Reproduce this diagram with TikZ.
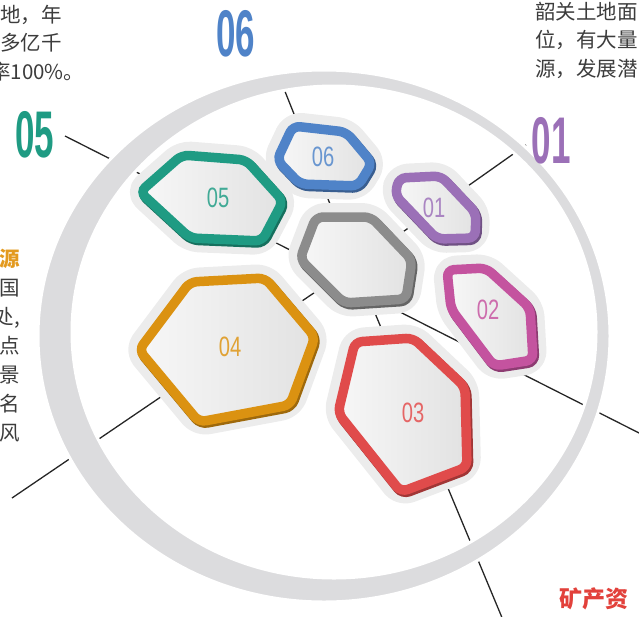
\documentclass[tikz,border=0pt]{standalone}
\usepackage{fontspec}
\usepackage{tikz}
\usetikzlibrary{calc}
\newfontfamily\cjk{Noto Sans CJK SC}
\newfontfamily\bignum[FakeStretch=0.53]{Liberation Sans}
\newfontfamily\cellnum[FakeStretch=0.72]{Liberation Sans}

\definecolor{c01}{HTML}{9B70B7}
\definecolor{c02}{HTML}{C4539F}
\definecolor{c03}{HTML}{E04B4B}
\definecolor{c04}{HTML}{DB9211}
\definecolor{c05}{HTML}{1F9B83}
\definecolor{c06}{HTML}{4F83C8}
\definecolor{c00}{HTML}{8C8C8C}
\definecolor{ringGray}{HTML}{DCDCDE}
\definecolor{haloGray}{HTML}{ECECEC}
\definecolor{cellA}{HTML}{F7F7F7}
\definecolor{cellB}{HTML}{E2E2E2}
\definecolor{textDark}{HTML}{3C3C3C}
\definecolor{srcOrange}{HTML}{E39A1F}
\definecolor{srcRed}{HTML}{E2413B}

% one hexagon cell: colour, then six corners
\newcommand{\hexcell}[7]{%
  \path[halo] #2 -- #3 -- #4 -- #5 -- #6 -- #7 -- cycle;
  \path[rimshadow=#1] #2 -- #3 -- #4 -- #5 -- #6 -- #7 -- cycle;
  \path[rim=#1] #2 -- #3 -- #4 -- #5 -- #6 -- #7 -- cycle;
}

\begin{document}
\begin{tikzpicture}[x=1pt,y=-1pt]
  \tikzstyle{halo}=[fill=haloGray,draw=haloGray,line width=28pt,rounded corners=9pt,line join=round]
  \tikzstyle{rimshadow}=[draw=#1!72!black,line width=10pt,rounded corners=7pt,shift={(1.5,2)}]
  \tikzstyle{rim}=[draw=#1,line width=9.5pt,rounded corners=7pt,left color=cellA,right color=cellB]
  \tikzstyle{leader}=[draw=black!85,line width=1.3pt]
  \tikzstyle{bignr}=[font=\bignum\bfseries\fontsize{66}{66}\selectfont,inner sep=0pt]
  \tikzstyle{cellnr}=[font=\cellnum\fontsize{28}{28}\selectfont,inner sep=0pt]
  \tikzstyle{para}=[font=\cjk\fontsize{20.5}{28.5}\selectfont,text=textDark,inner sep=0pt]

  \useasboundingbox (0,0) rectangle (639,616);
  \clip (0,0) rectangle (639,616);

  % leader line ends
  \coordinate (a05) at (65,136);   \coordinate (b05) at (300,255);
  \coordinate (a06) at (278,74);   \coordinate (b06) at (336,219);
  \coordinate (a01) at (526,145);  \coordinate (b01) at (390,241);
  \coordinate (a02) at (645,436);  \coordinate (b02) at (400,312);
  \coordinate (a03) at (503,620);  \coordinate (b03) at (372,306);
  \coordinate (a04) at (12,498);   \coordinate (b04) at (330,282);

  \foreach \k in {05,06,01,02,03,04}
    \draw[leader] (b\k) -- (a\k);

  % the big ring
  \path[fill=ringGray,draw=white,line width=3pt,even odd rule]
    (324,336) ellipse [x radius=286pt,y radius=266pt]
    (334,332) ellipse [x radius=262pt,y radius=246pt];

  % cells
  \hexcell{c05}{(140,192)}{(182,155)}{(246,160)}{(283,201)}{(262,241)}{(190,238)}
  \hexcell{c06}{(277,160)}{(293,126)}{(346,132)}{(372,163)}{(358,186)}{(300,184)}
  \hexcell{c01}{(395,195)}{(399,178)}{(441,176)}{(476,213)}{(475,238)}{(437,239)}
  \hexcell{c02}{(451,309)}{(447,270)}{(486,268)}{(530,308)}{(533,360)}{(494,366)}
  \hexcell{c03}{(338,413)}{(355,342)}{(413,338)}{(465,387)}{(467,467)}{(401,492)}
  \hexcell{c04}{(139,350)}{(190,282)}{(265,278)}{(315,337)}{(290,405)}{(199,422)}
  \hexcell{c00}{(300,259)}{(316,217)}{(371,217)}{(412,260)}{(406,299)}{(344,303)}

  \node[cellnr,text=c05!85!white] (n05) at (218,198) {05};
  \node[cellnr,text=c06!85!white] (n06) at (323,157) {06};
  \node[cellnr,text=c01!85!white] (n01) at (434,208) {01};
  \node[cellnr,text=c02!85!white] (n02) at (488,310) {02};
  \node[cellnr,text=c03!85!white] (n03) at (413,413) {03};
  \node[cellnr,text=c04!85!white] (n04) at (230,347) {04};

  \node[bignr,text=c05] (t05) at (35,135) {05};
  \node[bignr,text=c06] (t06) at (236,34) {06};
  \node[bignr,text=c01] (t01) at (551,141) {01};

  % text blocks (base = last line)
  \node[para,anchor=base west,align=left] (pTL) at (0,79)
    {地，年\\多亿千\\\hspace*{-10pt}率100\%。};
  \node[para,anchor=base west,align=left] (pTR) at (535,76)
    {韶关土地面\\位，有大量\\源，发展潜};
  \node[para,anchor=base east,align=right,font=\cjk\fontsize{20.5}{29}\selectfont] (pL) at (20,440)
    {\textcolor{srcOrange}{\bfseries 源}\\国\\处,\\点\\景\\名\\风};
  \node[para,anchor=base west,text=srcRed,font=\cjk\bfseries\fontsize{23}{23}\selectfont] (pBR) at (559,607)
    {矿产资};
\end{tikzpicture}
\end{document}
